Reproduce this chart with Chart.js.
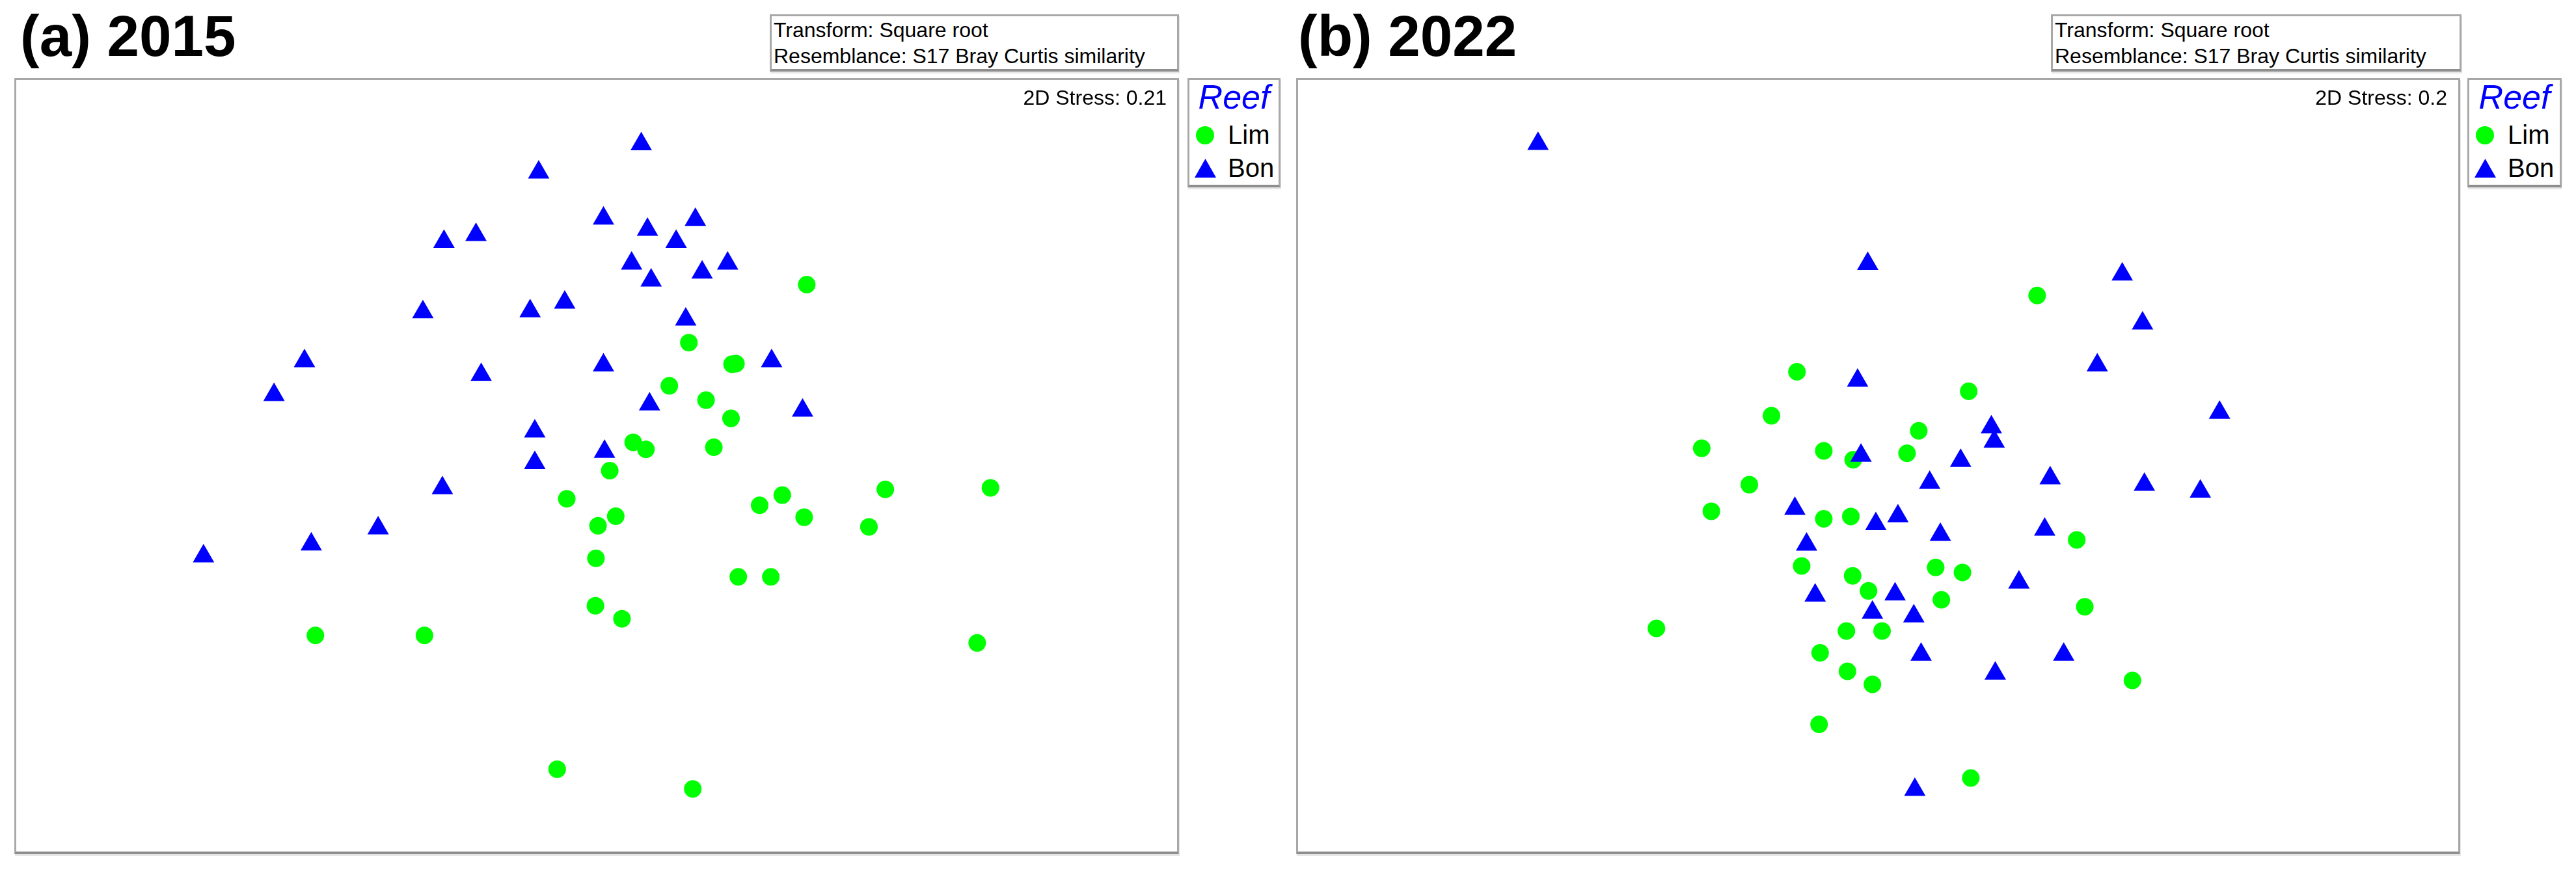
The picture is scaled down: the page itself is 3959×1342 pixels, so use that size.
<!DOCTYPE html>
<html>
<head>
<meta charset="utf-8">
<script src="https://cdn.jsdelivr.net/npm/chart.js@4.4.1/dist/chart.umd.min.js"></script>
<style>
  html, body { margin: 0; padding: 0; background: #fff; }
  body {
    width: 3959px; height: 1342px; position: relative; overflow: hidden;
    font-family: "Liberation Sans", Arial, sans-serif; color: #000;
  }
  .titulo { position: absolute; top: 11px; font-size: 89px; line-height: 89px; font-weight: bold; white-space: nowrap; }
  .caja {
    position: absolute; box-sizing: border-box; background: #fff;
    border: 3px solid #a8a8a8; border-bottom: 4px solid #8e8e8e;
    box-shadow: 1px 3px 0 #e6e6e6;
  }
  .transform { top: 22px; height: 88px; font-size: 32px; line-height: 40px; padding: 1px 0 0 3px; white-space: nowrap; }
  .marco { top: 120px; height: 1193px; }
  .leyenda { top: 120px; height: 168px; }
  .estres { position: absolute; top: 134px; width: 400px; font-size: 32px; line-height: 32px; text-align: right; white-space: nowrap; }
  .reef { position: absolute; left: 0; top: 0; width: 100%; text-align: center; font-size: 52px; line-height: 52px; font-style: italic; color: #0000ff; }
  .item { position: absolute; left: 59px; font-size: 40px; line-height: 40px; }
  .circulo { position: absolute; left: 10px; top: 71px; width: 28px; height: 28px; border-radius: 50%; background: #00ff00; }
  .triangulo { position: absolute; left: 8px; top: 121px; width: 33px; height: 29px; background: #0000ff; clip-path: polygon(50% 0, 100% 100%, 0 100%); }
  canvas { position: absolute; top: 123px; }
</style>
</head>
<body>

<div class="titulo" style="left:31px">(a) 2015</div>
<div class="caja transform" style="left:1183px; width:629px">Transform: Square root<br>Resemblance: S17 Bray Curtis similarity</div>
<div class="caja marco" style="left:22px; width:1790px"></div>
<canvas id="panelA" width="1783" height="1185" style="left:26px"></canvas>
<div class="estres" id="estresA" style="left:1393px"></div>
<div class="caja leyenda" style="left:1825px; width:143px">
  <div class="reef">Reef</div>
  <div class="circulo"></div><div class="item" style="top:64px">Lim</div>
  <div class="triangulo"></div><div class="item" style="top:115px">Bon</div>
</div>

<div class="titulo" style="left:1995px">(b) 2022</div>
<div class="caja transform" style="left:3152px; width:631px">Transform: Square root<br>Resemblance: S17 Bray Curtis similarity</div>
<div class="caja marco" style="left:1992px; width:1789px"></div>
<canvas id="panelB" width="1783" height="1185" style="left:1995px"></canvas>
<div class="estres" id="estresB" style="left:3361px"></div>
<div class="caja leyenda" style="left:3792px; width:145px">
  <div class="reef">Reef</div>
  <div class="circulo"></div><div class="item" style="top:64px">Lim</div>
  <div class="triangulo"></div><div class="item" style="top:115px">Bon</div>
</div>

<script>
// nMDS ordination scores (arbitrary units)
const REEFS = ["Lim", "Bon"];
const YEARS = ["2015", "2022"];
const STRESS = [0.21, 0.2];

const LIM_2015_X = [0.806, 0.353, 0.519, 0.534, 0.278, 0.419, 0.515, 0.139, 0.188, 0.449, 0.049, -0.116, 1.108, 1.512, 0.712,
  0.625, 0.072, 0.004, 0.796, 1.045, -0.004, 0.543, 0.668, -0.006, 0.096, -1.082, -0.663, 1.461, -0.153, 0.368];
const LIM_2015_Y = [0.695, 0.472, 0.389, 0.391, 0.306, 0.251, 0.181, 0.089, 0.062, 0.070, -0.020, -0.128, -0.092, -0.086, -0.114,
  -0.153, -0.195, -0.232, -0.199, -0.236, -0.357, -0.428, -0.428, -0.539, -0.589, -0.653, -0.653, -0.682, -1.167, -1.243];

const BON_2015_X = [0.170, -0.224, 0.025, 0.378, 0.194, 0.304, -0.465, -0.588, 0.133, 0.502, 0.404, 0.208, -0.124, -0.257, -0.669,
  0.341, -1.124, 0.025, 0.671, -0.445, -1.241, 0.202, 0.790, -0.239, 0.029, -0.239, -0.594, -0.841, -1.098, -1.512];
const BON_2015_Y = [1.235, 1.126, 0.949, 0.944, 0.906, 0.860, 0.886, 0.860, 0.776, 0.776, 0.742, 0.711, 0.626, 0.593, 0.589,
  0.561, 0.401, 0.385, 0.401, 0.348, 0.271, 0.235, 0.211, 0.131, 0.053, 0.010, -0.087, -0.241, -0.303, -0.349];

const LIM_2022_X = [0.611, -0.312, 0.348, -0.410, 0.156, -0.678, -0.209, -0.096, 0.111, -0.495, -0.641, -0.209, -0.105, 0.763, -0.294,
  -0.098, 0.221, 0.324, -0.037, 0.243, 0.794, -0.852, -0.122, 0.015, -0.223, -0.118, -0.022, 0.977, -0.227, 0.356];
const LIM_2022_Y = [0.653, 0.360, 0.285, 0.191, 0.133, 0.066, 0.056, 0.022, 0.047, -0.074, -0.176, -0.205, -0.196, -0.286, -0.386,
  -0.424, -0.392, -0.411, -0.482, -0.516, -0.543, -0.626, -0.636, -0.636, -0.720, -0.791, -0.841, -0.826, -0.995, -1.201];

const BON_2022_X = [-1.307, -0.040, 0.938, 1.016, 0.842, -0.079, 1.312, 0.435, 0.446, -0.066, 0.317, 0.198, 0.661, 1.023, 1.238,
  -0.320, 0.076, -0.009, 0.640, 0.239, -0.275, 0.541, -0.242, 0.065, -0.022, 0.137, 0.165, 0.713, 0.450, 0.141];
const BON_2022_Y = [1.236, 0.775, 0.734, 0.546, 0.385, 0.326, 0.203, 0.147, 0.092, 0.038, 0.018, -0.066, -0.049, -0.074, -0.100,
  -0.166, -0.195, -0.225, -0.246, -0.266, -0.304, -0.449, -0.499, -0.495, -0.565, -0.579, -0.727, -0.727, -0.799, -1.246];

// axis window of both plots (axes themselves are hidden, as in PRIMER output)
const X_LIMITS = [-2.229, 2.229];
const Y_LIMITS = [-1.481, 1.481];

const pares = (xs, ys) => xs.map((x, i) => ({ x, y: ys[i] }));

function dibujarPanel(id, lim, bon) {
  return new Chart(document.getElementById(id), {
    type: "scatter",
    data: {
      datasets: [
        {
          label: REEFS[0],
          data: lim,
          pointStyle: "circle",
          pointRadius: 13.5,
          pointHoverRadius: 13.5,
          backgroundColor: "#00ff00",
          borderWidth: 0,
          pointBorderWidth: 0,
          order: 2
        },
        {
          label: REEFS[1],
          data: bon,
          pointStyle: "triangle",
          pointRadius: 19,
          pointHoverRadius: 19,
          backgroundColor: "#0000ff",
          borderWidth: 0,
          pointBorderWidth: 0,
          order: 1
        }
      ]
    },
    options: {
      responsive: false,
      animation: false,
      devicePixelRatio: 1,
      events: [],
      layout: { padding: 0, autoPadding: false },
      plugins: {
        legend: { display: false },
        tooltip: { enabled: false }
      },
      scales: {
        x: { type: "linear", display: false, min: X_LIMITS[0], max: X_LIMITS[1] },
        y: { type: "linear", display: false, min: Y_LIMITS[0], max: Y_LIMITS[1] }
      }
    }
  });
}

dibujarPanel("panelA", pares(LIM_2015_X, LIM_2015_Y), pares(BON_2015_X, BON_2015_Y));
dibujarPanel("panelB", pares(LIM_2022_X, LIM_2022_Y), pares(BON_2022_X, BON_2022_Y));

document.getElementById("estresA").textContent = `2D Stress: ${STRESS[0]}`;
document.getElementById("estresB").textContent = `2D Stress: ${STRESS[1]}`;
</script>
</body>
</html>
